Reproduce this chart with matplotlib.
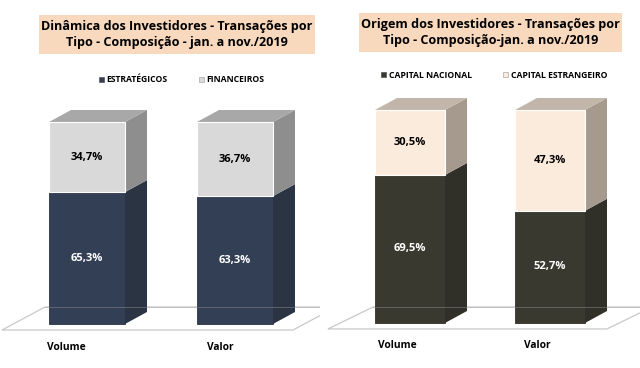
import matplotlib
matplotlib.use("Agg")
import matplotlib.pyplot as plt
from matplotlib.patches import Polygon, Rectangle, Patch

plt.rcParams['font.family'] = ['Open Sans', 'DejaVu Sans']

categories = ["Volume", "Valor"]

# left chart
left_title = "Dinâmica dos Investidores - Transações por\nTipo - Composição - jan. a nov./2019"
left_series = ["ESTRATÉGICOS", "FINANCEIROS"]
left_bottom = [65.3, 63.3]
left_top = [34.7, 36.7]

# right chart
right_title = "Origem dos Investidores - Transações por\nTipo - Composição-jan. a nov./2019"
right_series = ["CAPITAL NACIONAL", "CAPITAL ESTRANGEIRO"]
right_bottom = [69.5, 52.7]
right_top = [30.5, 47.3]

W, H = 640, 368
fig = plt.figure(figsize=(W / 100, H / 100), dpi=100)


def draw_panel(ax, title, series, bottom, top, cfg):
    # cfg: px geometry -> data units
    sx, sy = cfg["px_per_x"], cfg["px_per_y"]
    dx, dy = 22 / sx, 12 / sy
    width = cfg["bar_w"] / sx
    ax.set_xlim(-cfg["x0"] / sx, (320 - cfg["x0"]) / sx)
    ax.set_ylim(-cfg["y0"] / sy, (H - cfg["y0"]) / sy)
    ax.axis("off")

    # floor
    fl = cfg["floor"]
    floor = Polygon([(fl[0], fl[4]), (fl[1], fl[4]), (fl[3], fl[5]), (fl[2], fl[5])],
                    closed=True, facecolor="white", edgecolor="#c8c8c8", lw=0.9, zorder=1)
    ax.add_patch(floor)

    xs = range(len(categories))
    ax.bar(xs, bottom, width=width, color=cfg["c_dark"], edgecolor=cfg["e_dark"], lw=0.6, zorder=3)
    ax.bar(xs, top, bottom=bottom, width=width, color=cfg["c_light"], edgecolor="white", lw=0.8, zorder=3)

    for i in xs:
        x1 = i + width / 2
        x0 = i - width / 2
        b, t = bottom[i], bottom[i] + top[i]
        ax.add_patch(Polygon([(x1, 0), (x1 + dx, dy), (x1 + dx, b + dy), (x1, b)],
                             facecolor=cfg["s_dark"], edgecolor="none", zorder=2))
        ax.add_patch(Polygon([(x1, b), (x1 + dx, b + dy), (x1 + dx, t + dy), (x1, t)],
                             facecolor=cfg["s_light"], edgecolor="none", zorder=2))
        ax.add_patch(Polygon([(x0, t), (x0 + dx, t + dy), (x1 + dx, t + dy), (x1, t)],
                             facecolor=cfg["t_light"], edgecolor="none", zorder=2))
        ax.text(i, b / 2, f"{bottom[i]:.1f}%".replace(".", ","), color="white",
                ha="center", va="center", fontsize=8, fontweight="bold", zorder=5)
        ax.text(i, b + top[i] / 2, f"{top[i]:.1f}%".replace(".", ","), color="black",
                ha="center", va="center", fontsize=8, fontweight="bold", zorder=5)
        ax.text(i + cfg["lab_off"][i] / sx, -23 / sy, categories[i], ha="center", va="center",
                fontsize=7.4, fontweight="bold", zorder=5)

    # back floor line seen through the bars
    ax.plot([fl[2], fl[3]], [fl[5], fl[5]], color="#9a9a9a", lw=0.6, alpha=0.5, zorder=4)

    bx0, bx1, by0, by1 = cfg["title_box"]
    ax.add_patch(Rectangle((bx0, by0), bx1 - bx0, by1 - by0, transform=ax.transAxes,
                           facecolor="#f9d9bd", edgecolor="none", zorder=1, clip_on=False))
    ax.text((bx0 + bx1) / 2, (by0 + by1) / 2, title, transform=ax.transAxes,
            ha="center", va="center", fontsize=9.1, fontweight="bold", linespacing=1.35)

    handles = [Patch(facecolor=cfg["c_dark"], edgecolor="#555555", lw=0.5),
               Patch(facecolor=cfg["c_light"], edgecolor="#aaaaaa", lw=0.5)]
    ax.legend(handles, series, loc="center", bbox_to_anchor=cfg["leg"], ncol=2,
              frameon=False, handlelength=0.6, handleheight=0.6, handletextpad=0.3,
              columnspacing=cfg["colsp"], prop={"size": 6.2, "weight": "bold"})


axl = fig.add_axes([0, 0, 0.5, 1])
draw_panel(axl, left_title, left_series, left_bottom, left_top, dict(
    px_per_x=148, px_per_y=2.02, x0=87, y0=44, bar_w=76,
    c_dark="#333f55", e_dark="#2a3446", s_dark="#2b3443",
    c_light="#d9d9d9", s_light="#8e8e8e", t_light="#a8a8a8",
    floor=(-0.574, 1.392, -0.284, 1.682, -2.97, 8.4),
    title_box=(0.122, 0.984, 0.853, 0.959),
    leg=(0.567, 0.783), colsp=3.6, lab_off=(-21, -15)))

axr = fig.add_axes([0.5, 0, 0.5, 1])
draw_panel(axr, right_title, right_series, right_bottom, right_top, dict(
    px_per_x=140, px_per_y=2.13, x0=90, y0=45, bar_w=70,
    c_dark="#3a392f", e_dark="#302f28", s_dark="#302f28",
    c_light="#fbebdd", s_light="#a69a8e", t_light="#c2b6aa",
    floor=(-0.586, 1.407, -0.264, 1.729, -2.8, 7.5),
    title_box=(0.122, 0.944, 0.859, 0.965),
    leg=(0.544, 0.796), colsp=3.6, lab_off=(-13, -13)))

fig.savefig("out.png", dpi=100)
